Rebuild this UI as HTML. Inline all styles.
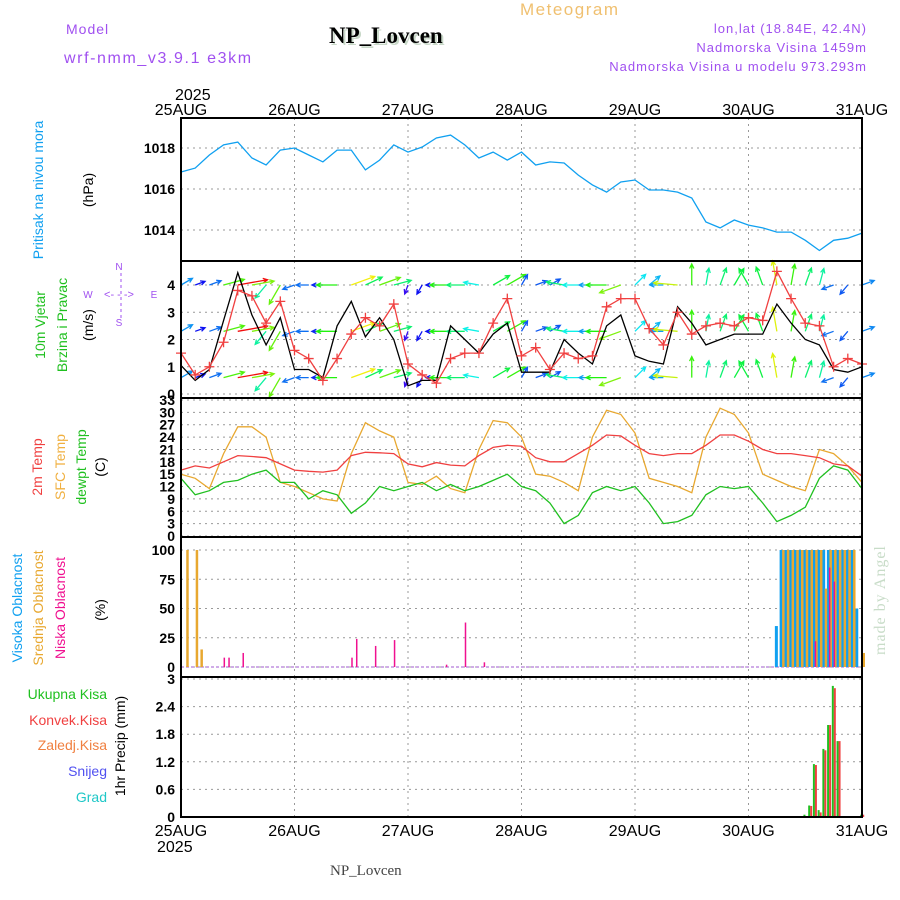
<!DOCTYPE html>
<html><head><meta charset="utf-8"><style>
html,body{margin:0;padding:0;background:#fff;}
svg{display:block;font-family:"Liberation Sans",sans-serif;}
</style></head><body>
<svg id="chart" width="900" height="900" viewBox="0 0 900 900" xmlns="http://www.w3.org/2000/svg">
<text x="520" y="15" font-size="17" fill="#f0c070" letter-spacing="1.5">Meteogram</text>
<text x="66" y="34" font-size="14" fill="#a050f0" letter-spacing="1">Model</text>
<text x="64" y="63" font-size="16" fill="#a050f0" letter-spacing="1.6">wrf-nmm_v3.9.1 e3km</text>
<text x="331" y="45" font-size="23" font-weight="bold" font-family="Liberation Serif, serif" fill="#c8d8c8">NP_Lovcen</text>
<text x="329" y="43" font-size="23" font-weight="bold" font-family="Liberation Serif, serif" fill="#000">NP_Lovcen</text>
<text x="867" y="33" font-size="13" fill="#a050f0" text-anchor="end" letter-spacing="1">lon,lat (18.84E, 42.4N)</text>
<text x="867" y="52" font-size="13" fill="#a050f0" text-anchor="end" letter-spacing="1">Nadmorska Visina 1459m</text>
<text x="867" y="71" font-size="13" fill="#a050f0" text-anchor="end" letter-spacing="1">Nadmorska Visina u modelu 973.293m</text>
<text x="175" y="100" font-size="16" fill="#000">2025</text>
<text x="157" y="852" font-size="16" fill="#000">2025</text>
<text x="330" y="875" font-size="15" font-family="Liberation Serif, serif" fill="#444">NP_Lovcen</text>
<text transform="translate(885,655) rotate(-90)" font-size="16" font-family="Liberation Serif, serif" fill="#c8dcc8" letter-spacing="1">made by Angel</text>
<!-- left axis titles -->
<text transform="translate(43,190) rotate(-90)" font-size="14" fill="#10a0f0" text-anchor="middle">Pritisak na nivou mora</text>
<text transform="translate(93,190) rotate(-90)" font-size="14" fill="#000" text-anchor="middle">(hPa)</text>
<text transform="translate(45,325) rotate(-90)" font-size="14" fill="#20c020" text-anchor="middle">10m Vjetar</text>
<text transform="translate(67,325) rotate(-90)" font-size="14" fill="#20c020" text-anchor="middle">Brzina i Pravac</text>
<text transform="translate(93,325) rotate(-90)" font-size="14" fill="#000" text-anchor="middle">(m/s)</text>
<g fill="#a050f0" stroke="none" font-size="10">
<text x="119" y="270" text-anchor="middle">N</text>
<text x="119" y="326" text-anchor="middle">S</text>
<text x="88" y="298" text-anchor="middle">W</text>
<text x="154" y="298" text-anchor="middle">E</text>
<text x="119" y="298" text-anchor="middle" font-size="11">&lt;- - -&gt;</text>
<line x1="121" y1="273" x2="121" y2="318" stroke="#a050f0" stroke-dasharray="3,3"/>
</g>
<text transform="translate(42,467) rotate(-90)" font-size="14" fill="#f04040" text-anchor="middle">2m Temp</text>
<text transform="translate(65,467) rotate(-90)" font-size="14" fill="#f0b040" text-anchor="middle">SFC Temp</text>
<text transform="translate(86,467) rotate(-90)" font-size="14" fill="#20c020" text-anchor="middle">dewpt Temp</text>
<text transform="translate(105,467) rotate(-90)" font-size="14" fill="#000" text-anchor="middle">(C)</text>
<text transform="translate(22,608) rotate(-90)" font-size="14" fill="#10a0f0" text-anchor="middle">Visoka Oblacnost</text>
<text transform="translate(43,608) rotate(-90)" font-size="14" fill="#e8a830" text-anchor="middle">Srednja Oblacnost</text>
<text transform="translate(65,608) rotate(-90)" font-size="14" fill="#f01090" text-anchor="middle">Niska Oblacnost</text>
<text transform="translate(105,610) rotate(-90)" font-size="14" fill="#000" text-anchor="middle">(%)</text>
<g font-size="14" text-anchor="end">
<text x="107" y="699" fill="#20c020">Ukupna Kisa</text>
<text x="107" y="725" fill="#f04040">Konvek.Kisa</text>
<text x="107" y="750" fill="#f08040">Zaledj.Kisa</text>
<text x="107" y="776" fill="#5050f0">Snijeg</text>
<text x="107" y="802" fill="#20c8c8">Grad</text>
</g>
<text transform="translate(125,746) rotate(-90)" font-size="14" fill="#000" text-anchor="middle">1hr Precip (mm)</text>
<g id="plot"></g>
</svg>
<script>
const hours = [0,3,6,9,12,15,18,21,24,27,30,33,36,39,42,45,48,51,54,57,60,63,66,69,72,75,78,81,84,87,90,93,96,99,102,105,108,111,114,117,120,123,126,129,132,135,138,141,144];
const dayLabels = ["25AUG","26AUG","27AUG","28AUG","29AUG","30AUG","31AUG"];
const pressure = [1016.83,1017.02,1017.66,1018.15,1018.29,1017.51,1017.17,1017.9,1018,1017.66,1017.32,1017.9,1017.9,1016.93,1017.41,1018.15,1017.8,1018.05,1018.49,1018.63,1018.15,1017.51,1017.8,1017.41,1017.8,1017.17,1017.32,1017.27,1016.68,1016.2,1015.85,1016.34,1016.44,1015.95,1015.95,1015.85,1015.56,1014.39,1014.1,1014.49,1014.24,1014.1,1013.9,1013.9,1013.5,1013.0,1013.5,1013.6,1013.85];
const pressureTicks = [1014,1016,1018];
const windSpeed = [1.05,0.5,0.9,2.7,4.45,2.9,1.8,2.8,0.9,0.9,0.6,2.5,3.4,2.1,2.8,2.0,0.3,0.5,0.5,2.5,2.0,1.5,2.2,2.6,0.8,0.8,0.8,2.0,1.5,1.1,2.5,2.9,1.4,1.2,1.1,3.2,2.6,1.8,2.0,2.2,2.2,2.2,3.3,2.6,2.0,1.8,0.9,0.8,1.0];
const windGust = [1.5,0.7,1.0,1.9,3.8,3.6,2.6,3.4,1.6,1.3,0.5,1.3,2.2,2.8,2.5,3.3,1.1,0.7,0.4,1.3,1.5,1.5,2.6,3.5,1.4,1.7,0.9,1.5,1.3,1.4,3.2,3.5,3.5,2.4,1.8,3.0,2.2,2.5,2.6,2.5,2.8,2.7,4.5,3.5,2.6,2.5,1.0,1.3,1.1];
const windDir = [30,20,20,15,10,10,230,240,200,180,180,180,20,25,20,15,250,240,180,180,180,170,30,30,60,20,30,170,180,180,180,200,45,40,180,175,90,80,70,60,120,110,100,80,70,75,200,230,20];
const windTicks = [0,1,2,3,4];
const windRows = [4.0,2.3,0.6];
const temp2m = [16,17,16.5,18,19.5,19.3,19,17.5,16,15.7,15.5,16,19.5,20.3,20.2,20,17.5,16.8,17.8,17.2,17,19.5,21.5,22,21.8,19,18,18,20,22,24.5,24.3,22,20,19.5,20,20,22,24.5,24.5,23,21,20,20,19.5,19,17.5,17,14.5];
const tempSfc = [15,14,11.5,20,26.5,26.5,24,13,12,10.5,9,8.5,20,27.5,25.5,24,13,12.5,14.5,11.5,10.5,21,28,27.5,24,15,14.5,13,11,24,30.5,29.5,25,14,13,12,10.5,24,31,29.5,25,15,13.5,12,11,21,20,17,13];
const tempDew = [14,10,11,13,13.5,15,16,13,13,9,11,10,5.5,8,12,11,12,13,11,12.5,11,12,13.5,15,12,11,8,3,5,10.5,12,11,12,8,3,3.5,5,10,12,11.5,12,8,3.5,5,7,14,17,16,11.5];
const tempTicks = [0,3,6,9,12,15,18,21,24,27,30,33];
const highCloudHours = [126,127,128,129,130,131,132,133,134,135,136,137,138,139,140,141,142,143];
const highCloudVals = [35,100,100,100,100,100,100,100,100,100,100,100,100,100,100,100,100,50];
const midCloudHours = [1,3,4,127,128,129,130,131,132,133,134,135,136,137,138,139,140,141,142,144];
const midCloudVals = [100,100,15,100,100,100,100,100,100,100,100,100,67,100,100,100,100,100,100,12];
const lowCloudHours = [9,10,13,36,37,41,45,56,60,64,134,137,138];
const lowCloudVals = [8,8,12,8,24,18,23,2,38,4,22,85,73];
const cloudTicks = [0,25,50,75,100];
const precipHours = [132,133,134,135,136,137,138,139,144];
const precipTotal = [0.05,0.25,1.15,0.15,1.48,2.0,2.85,1.65,0.05];
const precipConv = [0,0.24,1.13,0.1,1.45,2.0,2.8,1.65,0.05];
const precipTicks = [0,0.6,1.2,1.8,2.4,3];
const precipTickLabels = ["0","0.6","1.2","1.8","2.4","3"];

const NS="http://www.w3.org/2000/svg";
const plot=document.getElementById('plot');
const X0=181,X1=862,HMAX=144;
function xs(h){return X0+(X1-X0)*h/HMAX;}
function mk(tag,attrs,parent){const e=document.createElementNS(NS,tag);for(const k in attrs)e.setAttribute(k,attrs[k]);(parent||plot).appendChild(e);return e;}
function lin(v0,y0,v1,y1){return v=>y0+(v-v0)*(y1-y0)/(v1-v0);}
const yP=lin(1018,148,1014,230);
const yW=lin(0,394,4,285);
const yT=lin(0,536,33,400);
const yC=lin(0,667,100,550);
const yR=lin(0,817,3,679);
const panels=[[118,261],[261,398],[398,537],[537,677],[677,817]];

// vertical day grid
panels.forEach((p,pi)=>{
  for(let d=1;d<6;d++){
    const x=xs(d*24);
    const g=mk('line',{x1:x,x2:x,y1:p[0],y2:p[1],stroke:'#999','stroke-dasharray':'2,4','stroke-width':1});
    
    
  }
});
function hgrid(vals,yf,lab,name,fmt){
  vals.forEach((v,i)=>{
    const y=yf(v);
    const g=mk('line',{x1:X0,x2:X1,y1:y,y2:y,stroke:'#999','stroke-dasharray':'2,4'});
    
    
    const t=mk('text',{x:X0-6,y:y+5,'text-anchor':'end','font-size':14,'font-weight':'bold',fill:'#000'});
    
    
    t.textContent=lab?lab[i]:String(v);
  });
}
hgrid(pressureTicks,yP,null,'pressure');
hgrid(windTicks,yW,null,'wind');
hgrid(tempTicks,yT,null,'temp');
hgrid(cloudTicks,yC,null,'cloud');
hgrid(precipTicks,yR,precipTickLabels,'precip');

function poly(vals,yf,color,name,w){
  const pts=vals.map((v,i)=>xs(hours[i]).toFixed(1)+','+yf(v).toFixed(1)).join(' ');
  const l=mk('polyline',{points:pts,fill:'none',stroke:color,'stroke-width':w||1.3});
  
  
}
poly(pressure,yP,'#10a0f0','pressure-line');

// wind arrows
windRows.forEach(r=>{
  const y=yW(r);
  windDir.forEach((d,i)=>{
    const x=xs(hours[i]);
    const s=windSpeed[i];
    const L=8+s*5;
    const a=d*Math.PI/180;
    const x2=x+L*Math.cos(a),y2=y-L*Math.sin(a);
    const hue=Math.max(0,270-s*62);
    const col='hsl('+hue+',90%,50%)';
    const h1=a+Math.PI-0.45,h2=a+Math.PI+0.45;
    const ar=mk('path',{d:'M'+x+','+y+'L'+x2+','+y2+'M'+(x2+5*Math.cos(h1))+','+(y2-5*Math.sin(h1))+'L'+x2+','+y2+'L'+(x2+5*Math.cos(h2))+','+(y2-5*Math.sin(h2)),stroke:col,'stroke-width':1.3,fill:'none'});
    
    
  });
});
poly(windSpeed,yW,'#000','wind-speed-line',1.3);
poly(windGust,yW,'#f04040','wind-gust-line',1.3);
windGust.forEach((v,i)=>{
  const x=xs(hours[i]),y=yW(v);
  const m=mk('path',{d:'M'+(x-5)+','+y+'h10M'+x+','+(y-5)+'v10',stroke:'#f04040','stroke-width':1.3});
  
  
});

poly(tempSfc,yT,'#e8a830','sfc-temp-line');
poly(temp2m,yT,'#f04040','temp-2m-line');
poly(tempDew,yT,'#20c020','dewpoint-line');

// cloud bars
function bars(hs,vals,yf,color,dx,w,name){
  hs.forEach((h,i)=>{
    const x=xs(h)+dx,y=yf(vals[i]),y0=yf(0);
    const b=mk('rect',{x:x,y:y,width:w,height:Math.max(0,y0-y),fill:color});
    
    
  });
}
const zl=mk('line',{x1:X0,x2:X1,y1:yC(0),y2:yC(0),stroke:'#c090e0','stroke-width':1.5,'stroke-dasharray':'3,2'});


bars(highCloudHours,highCloudVals,yC,'#10a0f0',-2,3,'high-cloud-bar');
bars(midCloudHours,midCloudVals,yC,'#e8a830',0.5,2.5,'mid-cloud-bar');
bars(lowCloudHours,lowCloudVals,yC,'#f01090',0,1.5,'low-cloud-bar');

bars(precipHours,precipTotal,yR,'#20c020',-1.8,2,'precip-total-bar');
bars(precipHours,precipConv,yR,'#f04040',0.2,2,'precip-conv-bar');

// frames
panels.forEach((p,pi)=>{
  const f=mk('rect',{x:X0,y:p[0],width:X1-X0,height:p[1]-p[0],fill:'none',stroke:'#000','stroke-width':2});
  
  
});
// date labels
dayLabels.forEach((d,i)=>{
  const x=xs(i*24);
  const t1=mk('text',{x:x,y:115,'text-anchor':'middle','font-size':16,fill:'#000'});
  
  
  t1.textContent=d;
  const t2=mk('text',{x:x,y:836,'text-anchor':'middle','font-size':16,fill:'#000'});
  
  
  t2.textContent=d;
});
</script>
</body></html>
